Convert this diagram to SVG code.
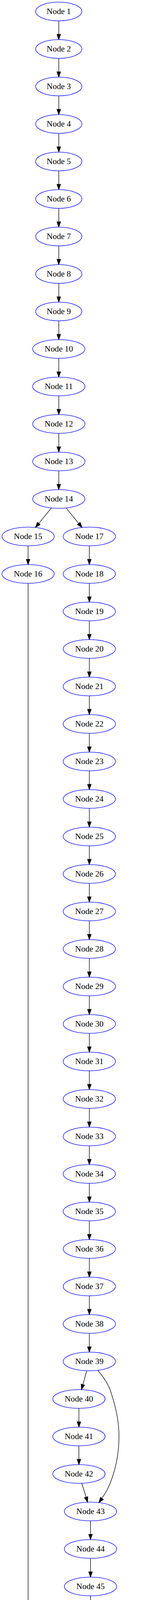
<svg xmlns="http://www.w3.org/2000/svg" width="405" height="6971" viewBox="0 0 405 6971">
<style>
.n ellipse{fill:none;stroke:#0000ff;stroke-width:1.33}
.n text{font-family:"Liberation Serif","Times New Roman",serif;font-size:21.33px;text-anchor:middle;fill:#000}
.e path{fill:none;stroke:#000;stroke-width:1.33;marker-end:url(#ah)}
</style>
<defs>
<marker id="ah" markerUnits="userSpaceOnUse" orient="auto" markerWidth="20" markerHeight="14" refX="14" refY="6" overflow="visible">
<polygon points="0.67,1.33 14,6 0.67,10.67" fill="#000" stroke="#000" stroke-width="1.33"/>
</marker>
</defs>
<rect x="0" y="0" width="405" height="6971" fill="#fff"/>
<g id="edges" class="e">
<path d="M150.67,53.33V101.33"/>
<path d="M150.67,149.33V197.33"/>
<path d="M150.67,245.33V293.33"/>
<path d="M150.67,341.33V389.33"/>
<path d="M150.67,437.33V485.33"/>
<path d="M150.67,533.33V581.33"/>
<path d="M150.67,629.33V677.33"/>
<path d="M150.67,725.33V773.33"/>
<path d="M150.67,821.33V869.33"/>
<path d="M150.67,917.33V965.33"/>
<path d="M150.67,1013.33V1061.33"/>
<path d="M150.67,1109.33V1157.33"/>
<path d="M150.67,1205.33V1253.33"/>
<path d="M131.8,1300.36L90.87,1350.3"/>
<path d="M169.47,1300.37L210.2,1350.3"/>
<path d="M72,1397.33V1445.33"/>
<path d="M72,1493.33L72,6660C72,6720 92,6770 113.3,6821.5"/>
<path d="M229,1397.33V1445.33"/>
<path d="M229,1493.33V1541.33"/>
<path d="M229,1589.33V1637.33"/>
<path d="M229,1685.33V1733.33"/>
<path d="M229,1781.33V1829.33"/>
<path d="M229,1877.33V1925.33"/>
<path d="M229,1973.33V2021.33"/>
<path d="M229,2069.33V2117.33"/>
<path d="M229,2165.33V2213.33"/>
<path d="M229,2261.33V2309.33"/>
<path d="M229,2357.33V2405.33"/>
<path d="M229,2453.33V2501.33"/>
<path d="M229,2549.33V2597.33"/>
<path d="M229,2645.33V2693.33"/>
<path d="M229,2741.33V2789.33"/>
<path d="M229,2837.33V2885.33"/>
<path d="M229,2933.33V2981.33"/>
<path d="M229,3029.33V3077.33"/>
<path d="M229,3125.33V3173.33"/>
<path d="M229,3221.33V3269.33"/>
<path d="M229,3317.33V3365.33"/>
<path d="M229,3413.33V3461.33"/>
<path d="M222.36,3509.23L208.94,3557.44"/>
<path d="M250.7,3508C266,3526 277,3542 283,3560C298,3605 305,3640 305,3677C305,3715 298,3755 285,3790C279,3808 269,3826 253.3,3846.6"/>
<path d="M202.3,3605.33V3653.33"/>
<path d="M202.3,3701.33V3749.33"/>
<path d="M209.68,3797.18L224.62,3845.48"/>
<path d="M232,3893.33V3941.33"/>
<path d="M232,3989.33V4037.33"/>
<path d="M232,4085.33V4133.33"/>
<path d="M225.28,4181.21L211.72,4229.45"/>
<path d="M254,4180C269,4198 280,4214 286,4232C301,4277 307.5,4312 307.5,4349C307.5,4387 301,4427 288,4462C282,4480 272,4498 257.3,4518.3"/>
<path d="M205,4277.33V4325.33"/>
<path d="M205,4373.33V4421.33"/>
<path d="M213.26,4469.15L230.04,4517.51"/>
<path d="M238.3,4565.33V4613.33"/>
<path d="M238.3,4661.33V4709.33"/>
<path d="M238.3,4757.33V4805.33"/>
<path d="M231.68,4853.21L218.32,4901.45"/>
<path d="M260,4852C275,4870 286,4886 292,4904C307,4949 313.5,4984 313.5,5021C313.5,5059 307,5099 294,5134C288,5152 280,5170 266.7,5190.1"/>
<path d="M211.7,4949.33V4997.33"/>
<path d="M211.7,5045.33V5093.33"/>
<path d="M221.18,5141.09L240.52,5189.57"/>
<path d="M250,5237.33V5285.33"/>
<path d="M250,5333.33V5381.33"/>
<path d="M250,5429.33V5477.33"/>
<path d="M243.53,5525.22L230.47,5573.44"/>
<path d="M272.3,5524C287,5542 297,5556 303,5574C317,5617 322.5,5650 322.5,5685C322.5,5730 312,5770 303,5810C299,5828 294,5844 286.7,5861.6"/>
<path d="M224,5621.33V5669.33"/>
<path d="M224,5717.33V5765.33"/>
<path d="M236.76,5812.89L263.24,5861.77"/>
<path d="M276,5909.33V5957.33"/>
<path d="M276,6005.33V6053.33"/>
<path d="M276,6101.33V6149.33"/>
<path d="M252.52,6195.81L199.18,6246.85"/>
<path d="M290.01,6196.8L319.29,6245.86"/>
<path d="M175.7,6293.33V6341.33"/>
<path d="M333.3,6293.33V6341.33"/>
<path d="M330.55,6389.31L325.05,6437.35"/>
<path d="M320.05,6485.32L315.55,6533.34"/>
<path d="M308.31,6581.26L298.29,6629.4"/>
<path d="M283.65,6677.08L263.95,6725.58"/>
<path d="M225,6770.91L153.3,6823.75"/>
<path d="M124,6869.33V6917.33"/>
</g>
<g id="node1" class="n"><ellipse cx="150.67" cy="29.33" rx="59.2" ry="24"/><text x="150.67" y="35.73">Node 1</text></g>
<g id="node2" class="n"><ellipse cx="150.67" cy="125.33" rx="59.2" ry="24"/><text x="150.67" y="131.73">Node 2</text></g>
<g id="node3" class="n"><ellipse cx="150.67" cy="221.33" rx="59.2" ry="24"/><text x="150.67" y="227.73">Node 3</text></g>
<g id="node4" class="n"><ellipse cx="150.67" cy="317.33" rx="59.2" ry="24"/><text x="150.67" y="323.73">Node 4</text></g>
<g id="node5" class="n"><ellipse cx="150.67" cy="413.33" rx="59.2" ry="24"/><text x="150.67" y="419.73">Node 5</text></g>
<g id="node6" class="n"><ellipse cx="150.67" cy="509.33" rx="59.2" ry="24"/><text x="150.67" y="515.73">Node 6</text></g>
<g id="node7" class="n"><ellipse cx="150.67" cy="605.33" rx="59.2" ry="24"/><text x="150.67" y="611.73">Node 7</text></g>
<g id="node8" class="n"><ellipse cx="150.67" cy="701.33" rx="59.2" ry="24"/><text x="150.67" y="707.73">Node 8</text></g>
<g id="node9" class="n"><ellipse cx="150.67" cy="797.33" rx="59.2" ry="24"/><text x="150.67" y="803.73">Node 9</text></g>
<g id="node10" class="n"><ellipse cx="150.67" cy="893.33" rx="67" ry="24"/><text x="150.67" y="899.73">Node 10</text></g>
<g id="node11" class="n"><ellipse cx="150.67" cy="989.33" rx="67" ry="24"/><text x="150.67" y="995.73">Node 11</text></g>
<g id="node12" class="n"><ellipse cx="150.67" cy="1085.33" rx="67" ry="24"/><text x="150.67" y="1091.73">Node 12</text></g>
<g id="node13" class="n"><ellipse cx="150.67" cy="1181.33" rx="67" ry="24"/><text x="150.67" y="1187.73">Node 13</text></g>
<g id="node14" class="n"><ellipse cx="150.67" cy="1277.33" rx="67" ry="24"/><text x="150.67" y="1283.73">Node 14</text></g>
<g id="node15" class="n"><ellipse cx="72" cy="1373.33" rx="67" ry="24"/><text x="72" y="1379.73">Node 15</text></g>
<g id="node16" class="n"><ellipse cx="72" cy="1469.33" rx="67" ry="24"/><text x="72" y="1475.73">Node 16</text></g>
<g id="node17" class="n"><ellipse cx="229" cy="1373.33" rx="67" ry="24"/><text x="229" y="1379.73">Node 17</text></g>
<g id="node18" class="n"><ellipse cx="229" cy="1469.33" rx="67" ry="24"/><text x="229" y="1475.73">Node 18</text></g>
<g id="node19" class="n"><ellipse cx="229" cy="1565.33" rx="67" ry="24"/><text x="229" y="1571.73">Node 19</text></g>
<g id="node20" class="n"><ellipse cx="229" cy="1661.33" rx="67" ry="24"/><text x="229" y="1667.73">Node 20</text></g>
<g id="node21" class="n"><ellipse cx="229" cy="1757.33" rx="67" ry="24"/><text x="229" y="1763.73">Node 21</text></g>
<g id="node22" class="n"><ellipse cx="229" cy="1853.33" rx="67" ry="24"/><text x="229" y="1859.73">Node 22</text></g>
<g id="node23" class="n"><ellipse cx="229" cy="1949.33" rx="67" ry="24"/><text x="229" y="1955.73">Node 23</text></g>
<g id="node24" class="n"><ellipse cx="229" cy="2045.33" rx="67" ry="24"/><text x="229" y="2051.73">Node 24</text></g>
<g id="node25" class="n"><ellipse cx="229" cy="2141.33" rx="67" ry="24"/><text x="229" y="2147.73">Node 25</text></g>
<g id="node26" class="n"><ellipse cx="229" cy="2237.33" rx="67" ry="24"/><text x="229" y="2243.73">Node 26</text></g>
<g id="node27" class="n"><ellipse cx="229" cy="2333.33" rx="67" ry="24"/><text x="229" y="2339.73">Node 27</text></g>
<g id="node28" class="n"><ellipse cx="229" cy="2429.33" rx="67" ry="24"/><text x="229" y="2435.73">Node 28</text></g>
<g id="node29" class="n"><ellipse cx="229" cy="2525.33" rx="67" ry="24"/><text x="229" y="2531.73">Node 29</text></g>
<g id="node30" class="n"><ellipse cx="229" cy="2621.33" rx="67" ry="24"/><text x="229" y="2627.73">Node 30</text></g>
<g id="node31" class="n"><ellipse cx="229" cy="2717.33" rx="67" ry="24"/><text x="229" y="2723.73">Node 31</text></g>
<g id="node32" class="n"><ellipse cx="229" cy="2813.33" rx="67" ry="24"/><text x="229" y="2819.73">Node 32</text></g>
<g id="node33" class="n"><ellipse cx="229" cy="2909.33" rx="67" ry="24"/><text x="229" y="2915.73">Node 33</text></g>
<g id="node34" class="n"><ellipse cx="229" cy="3005.33" rx="67" ry="24"/><text x="229" y="3011.73">Node 34</text></g>
<g id="node35" class="n"><ellipse cx="229" cy="3101.33" rx="67" ry="24"/><text x="229" y="3107.73">Node 35</text></g>
<g id="node36" class="n"><ellipse cx="229" cy="3197.33" rx="67" ry="24"/><text x="229" y="3203.73">Node 36</text></g>
<g id="node37" class="n"><ellipse cx="229" cy="3293.33" rx="67" ry="24"/><text x="229" y="3299.73">Node 37</text></g>
<g id="node38" class="n"><ellipse cx="229" cy="3389.33" rx="67" ry="24"/><text x="229" y="3395.73">Node 38</text></g>
<g id="node39" class="n"><ellipse cx="229" cy="3485.33" rx="67" ry="24"/><text x="229" y="3491.73">Node 39</text></g>
<g id="node40" class="n"><ellipse cx="202.3" cy="3581.33" rx="67" ry="24"/><text x="202.3" y="3587.73">Node 40</text></g>
<g id="node41" class="n"><ellipse cx="202.3" cy="3677.33" rx="67" ry="24"/><text x="202.3" y="3683.73">Node 41</text></g>
<g id="node42" class="n"><ellipse cx="202.3" cy="3773.33" rx="67" ry="24"/><text x="202.3" y="3779.73">Node 42</text></g>
<g id="node43" class="n"><ellipse cx="232" cy="3869.33" rx="67" ry="24"/><text x="232" y="3875.73">Node 43</text></g>
<g id="node44" class="n"><ellipse cx="232" cy="3965.33" rx="67" ry="24"/><text x="232" y="3971.73">Node 44</text></g>
<g id="node45" class="n"><ellipse cx="232" cy="4061.33" rx="67" ry="24"/><text x="232" y="4067.73">Node 45</text></g>
<g id="node46" class="n"><ellipse cx="232" cy="4157.33" rx="67" ry="24"/><text x="232" y="4163.73">Node 46</text></g>
<g id="node47" class="n"><ellipse cx="205" cy="4253.33" rx="67" ry="24"/><text x="205" y="4259.73">Node 47</text></g>
<g id="node48" class="n"><ellipse cx="205" cy="4349.33" rx="67" ry="24"/><text x="205" y="4355.73">Node 48</text></g>
<g id="node49" class="n"><ellipse cx="205" cy="4445.33" rx="67" ry="24"/><text x="205" y="4451.73">Node 49</text></g>
<g id="node50" class="n"><ellipse cx="238.3" cy="4541.33" rx="67" ry="24"/><text x="238.3" y="4547.73">Node 50</text></g>
<g id="node51" class="n"><ellipse cx="238.3" cy="4637.33" rx="67" ry="24"/><text x="238.3" y="4643.73">Node 51</text></g>
<g id="node52" class="n"><ellipse cx="238.3" cy="4733.33" rx="67" ry="24"/><text x="238.3" y="4739.73">Node 52</text></g>
<g id="node53" class="n"><ellipse cx="238.3" cy="4829.33" rx="67" ry="24"/><text x="238.3" y="4835.73">Node 53</text></g>
<g id="node54" class="n"><ellipse cx="211.7" cy="4925.33" rx="67" ry="24"/><text x="211.7" y="4931.73">Node 54</text></g>
<g id="node55" class="n"><ellipse cx="211.7" cy="5021.33" rx="67" ry="24"/><text x="211.7" y="5027.73">Node 55</text></g>
<g id="node56" class="n"><ellipse cx="211.7" cy="5117.33" rx="67" ry="24"/><text x="211.7" y="5123.73">Node 56</text></g>
<g id="node57" class="n"><ellipse cx="250" cy="5213.33" rx="67" ry="24"/><text x="250" y="5219.73">Node 57</text></g>
<g id="node58" class="n"><ellipse cx="250" cy="5309.33" rx="67" ry="24"/><text x="250" y="5315.73">Node 58</text></g>
<g id="node59" class="n"><ellipse cx="250" cy="5405.33" rx="67" ry="24"/><text x="250" y="5411.73">Node 59</text></g>
<g id="node60" class="n"><ellipse cx="250" cy="5501.33" rx="67" ry="24"/><text x="250" y="5507.73">Node 60</text></g>
<g id="node61" class="n"><ellipse cx="224" cy="5597.33" rx="67" ry="24"/><text x="224" y="5603.73">Node 61</text></g>
<g id="node62" class="n"><ellipse cx="224" cy="5693.33" rx="67" ry="24"/><text x="224" y="5699.73">Node 62</text></g>
<g id="node63" class="n"><ellipse cx="224" cy="5789.33" rx="67" ry="24"/><text x="224" y="5795.73">Node 63</text></g>
<g id="node64" class="n"><ellipse cx="276" cy="5885.33" rx="67" ry="24"/><text x="276" y="5891.73">Node 64</text></g>
<g id="node65" class="n"><ellipse cx="276" cy="5981.33" rx="67" ry="24"/><text x="276" y="5987.73">Node 65</text></g>
<g id="node66" class="n"><ellipse cx="276" cy="6077.33" rx="67" ry="24"/><text x="276" y="6083.73">Node 66</text></g>
<g id="node67" class="n"><ellipse cx="276" cy="6173.33" rx="67" ry="24"/><text x="276" y="6179.73">Node 67</text></g>
<g id="node69" class="n"><ellipse cx="175.7" cy="6269.33" rx="67" ry="24"/><text x="175.7" y="6275.73">Node 69</text></g>
<g id="node68" class="n"><ellipse cx="333.3" cy="6269.33" rx="67" ry="24"/><text x="333.3" y="6275.73">Node 68</text></g>
<g id="node70" class="n"><ellipse cx="175.7" cy="6365.33" rx="67" ry="24"/><text x="175.7" y="6371.73">Node 70</text></g>
<g id="node72" class="n"><ellipse cx="333.3" cy="6365.33" rx="67" ry="24"/><text x="333.3" y="6371.73">Node 72</text></g>
<g id="node73" class="n"><ellipse cx="322.3" cy="6461.33" rx="67" ry="24"/><text x="322.3" y="6467.73">Node 73</text></g>
<g id="node74" class="n"><ellipse cx="313.3" cy="6557.33" rx="67" ry="24"/><text x="313.3" y="6563.73">Node 74</text></g>
<g id="node75" class="n"><ellipse cx="293.3" cy="6653.33" rx="67" ry="24"/><text x="293.3" y="6659.73">Node 75</text></g>
<g id="node76" class="n"><ellipse cx="254.3" cy="6749.33" rx="67" ry="24"/><text x="254.3" y="6755.73">Node 76</text></g>
<g id="node77" class="n"><ellipse cx="124" cy="6845.33" rx="67" ry="24"/><text x="124" y="6851.73">Node 77</text></g>
<g id="node78" class="n"><ellipse cx="124" cy="6941.33" rx="67" ry="24"/><text x="124" y="6947.73">Node 78</text></g>
</svg>
